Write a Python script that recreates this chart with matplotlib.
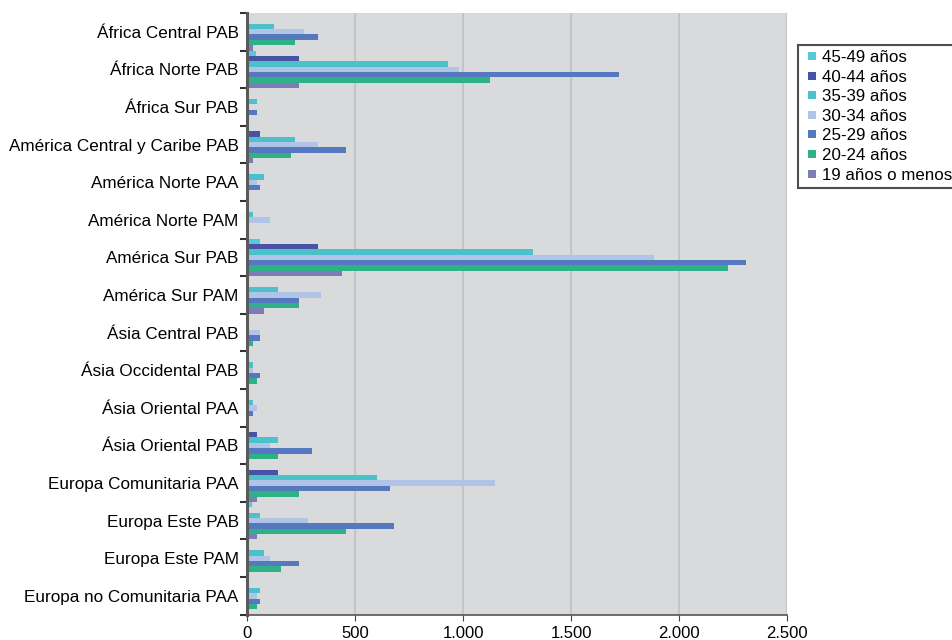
import matplotlib
matplotlib.use('Agg')
import matplotlib.pyplot as plt
from matplotlib.ticker import FuncFormatter
from matplotlib.lines import Line2D
import numpy as np

plt.rcParams['font.family'] = ['Liberation Sans', 'DejaVu Sans']

# Categorías (de arriba a abajo)
categorias = [
    "África Central PAB", "África Norte PAB", "África Sur PAB",
    "América Central y Caribe PAB", "América Norte PAA", "América Norte PAM",
    "América Sur PAB", "América Sur PAM", "Ásia Central PAB",
    "Ásia Occidental PAB", "Ásia Oriental PAA", "Ásia Oriental PAB",
    "Europa Comunitaria PAA", "Europa Este PAB", "Europa Este PAM",
    "Europa no Comunitaria PAA",
]

# Series por grupo de edad
edad_45_49 = [0, 40, 0, 0, 0, 0, 60, 0, 0, 0, 0, 0, 0, 23, 0, 0]
edad_40_44 = [0, 241, 0, 60, 0, 0, 329, 0, 0, 0, 0, 46, 144, 0, 0, 0]
edad_35_39 = [125, 930, 46, 222, 79, 26, 1324, 144, 0, 26, 26, 144, 602, 60, 79, 60]
edad_30_34 = [264, 981, 0, 329, 46, 106, 1884, 343, 60, 26, 46, 106, 1148, 282, 106, 46]
edad_25_29 = [329, 1722, 46, 458, 60, 0, 2310, 241, 60, 60, 26, 301, 662, 681, 241, 60]
edad_20_24 = [222, 1125, 0, 204, 0, 0, 2227, 241, 26, 46, 0, 144, 241, 458, 157, 46]
edad_19_menos = [26, 241, 0, 26, 0, 0, 440, 79, 0, 0, 0, 0, 46, 46, 0, 0]

series = [
    ("45-49 años", edad_45_49, "#58C7D8"),
    ("40-44 años", edad_40_44, "#4953A5"),
    ("35-39 años", edad_35_39, "#4CC1C9"),
    ("30-34 años", edad_30_34, "#AFC4E6"),
    ("25-29 años", edad_25_29, "#5678BF"),
    ("20-24 años", edad_20_24, "#2EB186"),
    ("19 años o menos", edad_19_menos, "#7B7DB4"),
]

fig = plt.figure(figsize=(9.52, 6.4), dpi=100)
ax = fig.add_axes([247 / 952, 1 - 614.7 / 640, (787 - 247) / 952, (614.7 - 13) / 640])
ax.set_facecolor("#D9DADC")

n = len(series)
h = 1.0 / n
idx = np.arange(len(categorias))
handles = []
for j, (nombre, valores, color) in enumerate(series):
    y = idx - 0.5 + (j + 0.5) * h
    ax.barh(y, valores, height=h, color=color, linewidth=0, zorder=2)
    handles.append(Line2D([], [], linestyle='none', marker='s', markersize=5.8,
                          markerfacecolor=color, markeredgewidth=0, label=nombre))

ax.set_xlim(0, 2500)
ax.set_ylim(len(categorias) - 0.5, -0.5)
ax.set_xticks(np.arange(0, 2501, 500))
ax.xaxis.set_major_formatter(FuncFormatter(lambda v, p: f"{int(v):,}".replace(",", ".")))
ax.grid(axis='x', color="#C3C4C6", linewidth=1.5, zorder=0)
ax.set_axisbelow(True)

# marcas en los límites de categoría, etiquetas en el centro
ax.set_yticks(np.arange(len(categorias) + 1) - 0.5)
ax.set_yticklabels([])
ax.set_yticks(idx, minor=True)
ax.set_yticklabels(categorias, minor=True)
ax.tick_params(axis='y', which='major', length=5, width=1.5, color="#333333")
ax.tick_params(axis='y', which='minor', length=0, pad=6, labelsize=12.3)
ax.tick_params(axis='x', length=4, color="#444444", labelsize=12, pad=4)

for s in ["top", "right"]:
    ax.spines[s].set_visible(False)
ax.spines["left"].set_color("#5A5A5A")
ax.spines["left"].set_linewidth(2.2)
ax.spines["bottom"].set_color("#555555")
ax.spines["bottom"].set_linewidth(1.2)

leg = fig.legend(handles=handles, loc='upper left', bbox_to_anchor=(798 / 952, 1 - 45 / 640),
                 fontsize=12.2, frameon=True, fancybox=False, edgecolor="#222222",
                 handlelength=1.1, handletextpad=0.0,
                 labelspacing=0.27, borderpad=0.3, borderaxespad=0)
leg.get_frame().set_linewidth(1.5)

plt.savefig("out.png", dpi=100)
